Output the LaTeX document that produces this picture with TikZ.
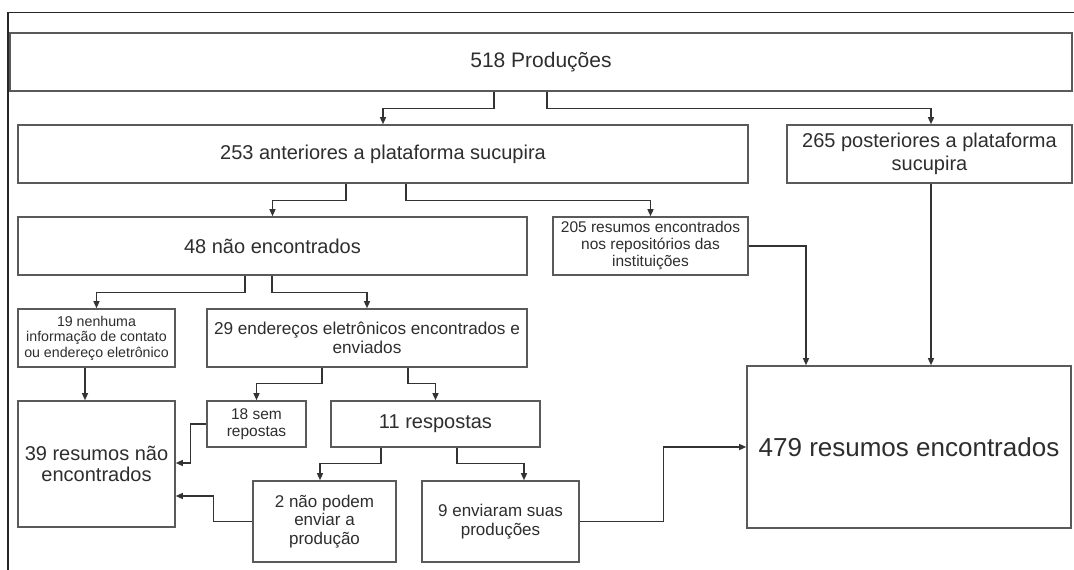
\documentclass[tikz,border=0pt]{standalone}
\usepackage{fontspec}
\setmainfont{Liberation Sans}
\usetikzlibrary{arrows.meta,calc}
\definecolor{boxgray}{HTML}{5A5A5A}
\definecolor{linegray}{HTML}{333333}
\definecolor{txt}{HTML}{2E2E2E}
\tikzset{
  box/.style={draw=boxgray, line width=1.6pt, align=center, inner sep=0pt, text=txt, anchor=center},
  arr/.style={draw=linegray, line width=1.3pt, -{Triangle[length=7pt,width=6pt]}},
  frame/.style={draw=black!85, line width=1.3pt}
}
\begin{document}
\begin{tikzpicture}[x=1pt,y=-1pt]
\useasboundingbox (0,0) rectangle (1074,570);
\fill[white] (0,0) rectangle (1074,570);
% outer frame
\draw[frame] (8,570) -- (8,12.7) -- (1074,12.7);
% nodes
\node[box, minimum width=1062pt, minimum height=58pt, font=\fontsize{21}{24}\selectfont] (n518) at (541,62) {518 Produções};
\node[box, minimum width=730pt, minimum height=58pt, font=\fontsize{20}{23}\selectfont] (n253) at (383,154) {253 anteriores a plataforma sucupira};
\node[box, minimum width=285pt, minimum height=58pt, font=\fontsize{20}{23}\selectfont] (n265) at (929.5,154) {265 posteriores a plataforma\\sucupira};
\node[box, minimum width=509pt, minimum height=58pt, font=\fontsize{20}{23}\selectfont] (n48) at (272.5,246) {48 não encontrados};
\node[box, minimum width=195pt, minimum height=58pt, font=\fontsize{15.5}{17}\selectfont] (n205) at (650.5,246) {205 resumos encontrados\\nos repositórios das\\instituições};
\node[box, minimum width=157pt, minimum height=58pt, font=\fontsize{14.2}{15.5}\selectfont] (n19) at (96.5,338) {19 nenhuma\\informação de contato\\ou endereço eletrônico};
\node[box, minimum width=320pt, minimum height=58pt, font=\fontsize{17.2}{18.5}\selectfont] (n29) at (367,338) {29 endereços eletrônicos encontrados e\\enviados};
\node[box, minimum width=157pt, minimum height=126pt, font=\fontsize{20}{21.5}\selectfont] (n39) at (96.5,464) {39 resumos não\\encontrados};
\node[box, minimum width=99pt, minimum height=46pt, font=\fontsize{15.5}{17}\selectfont] (n18) at (256.5,424) {18 sem\\repostas};
\node[box, minimum width=209pt, minimum height=46pt, font=\fontsize{20}{23}\selectfont] (n11) at (435.5,424) {11 respostas};
\node[box, minimum width=143pt, minimum height=81pt, font=\fontsize{17}{18.3}\selectfont] (n2) at (324.5,521.5) {2 não podem\\enviar a\\produção};
\node[box, minimum width=157pt, minimum height=81pt, font=\fontsize{17}{18.3}\selectfont] (n9) at (500.5,521.5) {9 enviaram suas\\produções};
\node[box, minimum width=324pt, minimum height=162pt, font=\fontsize{26}{30}\selectfont] (n479) at (909,447) {479 resumos encontrados};
% connectors
\draw[arr] ([xshift=-47pt]n518.south) -- ++(0,17) -| (n253.north);
\draw[arr] ([xshift=6pt]n518.south) -- ++(0,17) -| ([xshift=1.5pt]n265.north);
\draw[arr] ([xshift=-37pt]n253.south) -- ++(0,17) -| (n48.north);
\draw[arr] ([xshift=23pt]n253.south) -- ++(0,17) -| (n205.north);
\draw[arr] (n205.east) -| ([xshift=-103pt]n479.north);
\draw[arr] ([xshift=1.5pt]n265.south) -- ([xshift=22pt]n479.north);
\draw[arr] ([xshift=-27.5pt]n48.south) -- ++(0,17) -| (n19.north);
\draw[arr] ([xshift=-0.5pt]n48.south) -- ++(0,17) -| (n29.north);
\draw[arr] ([xshift=-11.5pt]n19.south) -- ([xshift=-11.5pt]n39.north);
\draw[arr] ([xshift=-45pt]n29.south) -- ++(0,16) -| (n18.north);
\draw[arr] ([xshift=41pt]n29.south) -- ++(0,16) -| (n11.north);
\draw[arr] (n18.west) -- ++(-16,0) |- ([yshift=1pt]n39.east);
\draw[arr] ([xshift=-54.5pt]n11.south) -- ++(0,16) -| ([xshift=-4.5pt]n2.north);
\draw[arr] ([xshift=21.5pt]n11.south) -- ++(0,16) -| ([xshift=23.5pt]n9.north);
\draw[arr] (n2.west) -- ++(-39,0) |- ([yshift=-32pt]n39.east);
\draw[arr] (n9.east) -- ++(84,0) |- (n479.west);
\end{tikzpicture}
\end{document}
